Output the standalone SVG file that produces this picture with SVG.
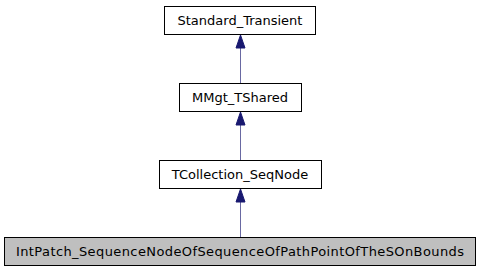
<svg xmlns="http://www.w3.org/2000/svg" width="480" height="272" viewBox="0 0 480 272">
  <style>
    .box { fill: #ffffff; stroke: #000000; stroke-width: 1; }
    .cur { fill: #bfbfbf; stroke: #000000; stroke-width: 1; }
    .lbl { font-family: "DejaVu Sans", sans-serif; font-size: 13px; fill: #000000; text-anchor: middle; }
    .edge { stroke: #191970; stroke-opacity: 0.65; stroke-width: 1; fill: none; }
    .head { fill: #191970; stroke: #191970; stroke-width: 1; }
  </style>
  <rect width="480" height="272" fill="#ffffff"/>
  <!-- inheritance edges: child points up to its base class -->
  <g id="edges">
    <line class="edge" x1="240.5" y1="83" x2="240.5" y2="48"/>
    <polygon class="head" points="236,48 240.5,35 245,48"/>
    <line class="edge" x1="240.5" y1="160" x2="240.5" y2="125"/>
    <polygon class="head" points="236,125 240.5,112 245,125"/>
    <line class="edge" x1="240.5" y1="237" x2="240.5" y2="202"/>
    <polygon class="head" points="236,202 240.5,189 245,202"/>
  </g>
  <g id="node-standard-transient">
    <rect class="box" x="164.5" y="6.5" width="151" height="28"/>
    <text class="lbl" x="240" y="25">Standard_Transient</text>
  </g>
  <g id="node-mmgt-tshared">
    <rect class="box" x="179.5" y="83.5" width="122" height="28"/>
    <text class="lbl" x="240" y="102">MMgt_TShared</text>
  </g>
  <g id="node-tcollection-seqnode">
    <rect class="box" x="159.5" y="160.5" width="162" height="28"/>
    <text class="lbl" x="240" y="179">TCollection_SeqNode</text>
  </g>
  <g id="node-intpatch">
    <rect class="cur" x="4.5" y="237.5" width="471" height="28"/>
    <text class="lbl" x="240" y="256" textLength="448" lengthAdjust="spacing">IntPatch_SequenceNodeOfSequenceOfPathPointOfTheSOnBounds</text>
  </g>
</svg>
